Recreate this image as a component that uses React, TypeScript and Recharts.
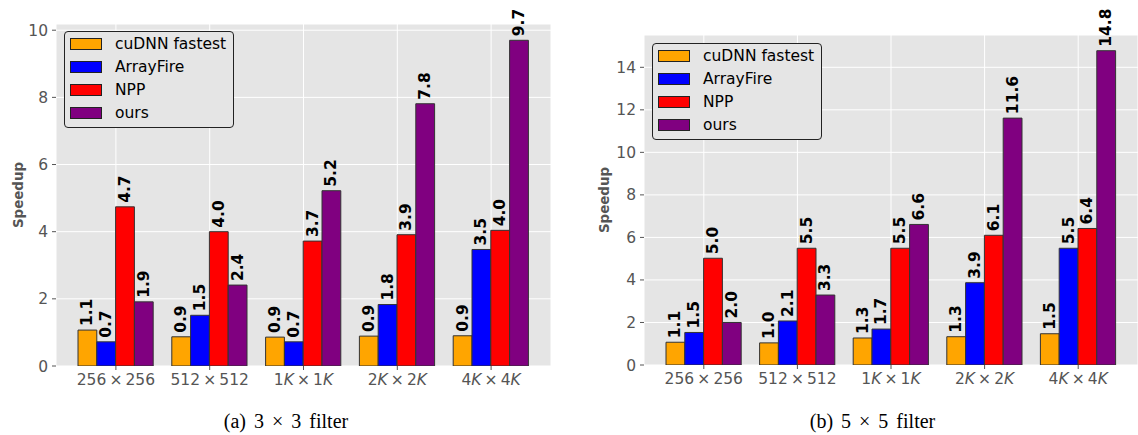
import React from 'react';
import { BarChart, Bar, XAxis, YAxis, CartesianGrid, Legend, LabelList } from 'recharts';

const categories = ['256×256', '512×512', '1K×1K', '2K×2K', '4K×4K'];
const seriesNames = ['cuDNN fastest', 'ArrayFire', 'NPP', 'ours'];
const seriesColors = ['#FFA500', '#0000FF', '#FF0000', '#800080'];

// (a) 3x3 filter
const cudnn3 = [1.07, 0.87, 0.86, 0.89, 0.9];
const arrayfire3 = [0.72, 1.51, 0.72, 1.83, 3.47];
const npp3 = [4.74, 4.0, 3.72, 3.91, 4.04];
const ours3 = [1.91, 2.41, 5.22, 7.81, 9.7];

// (b) 5x5 filter
const cudnn5 = [1.07, 1.04, 1.27, 1.33, 1.47];
const arrayfire5 = [1.53, 2.07, 1.69, 3.87, 5.49];
const npp5 = [5.02, 5.49, 5.49, 6.1, 6.42];
const ours5 = [2.0, 3.29, 6.61, 11.61, 14.78];

const ticks3 = [0, 2, 4, 6, 8, 10];
const ticks5 = [0, 2, 4, 6, 8, 10, 12, 14];

const captionA = '(a) 3 × 3 filter';
const captionB = '(b) 5 × 5 filter';
const yLabel = 'Speedup';

const makeRows = (a: number[], b: number[], c: number[], d: number[]) =>
  categories.map((cat, i) => ({ cat, s0: a[i], s1: b[i], s2: c[i], s3: d[i] }));

const rows3 = makeRows(cudnn3, arrayfire3, npp3, ours3);
const rows5 = makeRows(cudnn5, arrayfire5, npp5, ours5);

const FONT = 'DejaVu Sans';

const renderSide = (s: string, key: string) => {
  if (s.endsWith('K')) {
    return [
      <tspan key={key + 'd'}>{s.slice(0, -1)}</tspan>,
      <tspan key={key + 'k'} fontStyle="italic">K</tspan>,
    ];
  }
  return [<tspan key={key + 'd'}>{s}</tspan>];
};

const XTick = (props: any) => {
  const { x, y, payload } = props;
  const [a, b] = String(payload.value).split('×');
  return (
    <text x={x} y={y} dy="0.71em" textAnchor="middle" fill="#555" fontFamily={FONT} fontSize={15.5}>
      {renderSide(a, 'a')}
      <tspan>{'\u2009×\u2009'}</tspan>
      {renderSide(b, 'b')}
    </text>
  );
};

const BarLabel = (props: any) => {
  const { x, y, width, value } = props;
  const cx = Number(x) + Number(width) / 2;
  const cy = Number(y) - 4;
  return (
    <text
      x={cx}
      y={cy}
      transform={`rotate(-90 ${cx} ${cy})`}
      textAnchor="start"
      dominantBaseline="central"
      fontFamily={FONT}
      fontWeight="bold"
      fontSize={15.5}
      fill="#000"
    >
      {Number(value).toFixed(1)}
    </text>
  );
};

const LegendBox = () => (
  <div
    style={{
      position: 'relative',
      width: 170,
      height: 97,
      boxSizing: 'border-box',
      border: '1px solid #222',
      borderRadius: 4,
      background: '#E5E5E5',
      fontFamily: FONT,
      fontSize: 15.5,
      color: '#000',
    }}
  >
    {seriesNames.map((n, i) => (
      <div key={n}>
        <div
          style={{
            position: 'absolute',
            left: 5,
            top: 6 + i * 23,
            width: 32,
            height: 12,
            boxSizing: 'border-box',
            background: seriesColors[i],
            border: '1px solid #222',
          }}
        />
        <div
          style={{
            position: 'absolute',
            left: 50,
            top: 12 + i * 23 - 9,
            lineHeight: '18px',
            whiteSpace: 'nowrap',
          }}
        >
          {n}
        </div>
      </div>
    ))}
  </div>
);

const makeYLabel = (cx: number) => (p: any) => {
  const vb = p && p.viewBox ? p.viewBox : { x: 0, y: 0, width: 0, height: 0 };
  const cy = vb.y + vb.height / 2;
  return (
    <text
      x={cx}
      y={cy}
      transform={`rotate(-90 ${cx} ${cy})`}
      textAnchor="middle"
      dominantBaseline="central"
      fontFamily={FONT}
      fontWeight="bold"
      fontSize={13.4}
      fill="#555"
    >
      {yLabel}
    </text>
  );
};

type PanelProps = {
  rows: any[];
  ticks: number[];
  ymax: number;
  width: number;
  top: number;
  right: number;
  yAxisWidth: number;
  xAxisHeight: number;
  yLabelX: number;
  legendLeft: number;
  legendTop: number;
};

const Panel = (p: PanelProps) => (
  <BarChart
    width={p.width}
    height={435}
    data={p.rows}
    margin={{ top: p.top, right: p.right, left: 0, bottom: 0 }}
    barGap={0}
  >
    <CartesianGrid stroke="#FFFFFF" strokeWidth={1} fill="#E5E5E5" fillOpacity={1} />
    <XAxis
      dataKey="cat"
      tick={<XTick />}
      tickSize={4}
      tickMargin={4}
      axisLine={false}
      tickLine={{ stroke: '#555' }}
      height={p.xAxisHeight}
      padding={{ left: 13, right: 13 }}
      interval={0}
    />
    <YAxis
      type="number"
      domain={[0, p.ymax]}
      ticks={p.ticks}
      allowDataOverflow
      tickSize={4}
      tickMargin={4}
      axisLine={false}
      tickLine={{ stroke: '#555' }}
      tick={{ fill: '#555', fontSize: 15.5, fontFamily: FONT }}
      width={p.yAxisWidth}
      label={{ value: yLabel, content: makeYLabel(p.yLabelX) }}
    />
    <Legend
      layout="vertical"
      align="center"
      verticalAlign="middle"
      content={<LegendBox />}
      wrapperStyle={{ left: p.legendLeft, top: p.legendTop, width: 170, height: 97, bottom: 'auto', right: 'auto' }}
    />
    {seriesNames.map((n, i) => (
      <Bar
        key={n}
        dataKey={'s' + i}
        name={n}
        fill={seriesColors[i]}
        stroke="#333"
        strokeWidth={1}
        barSize={18.8}
        isAnimationActive={false}
      >
        <LabelList dataKey={'s' + i} content={<BarLabel />} />
      </Bar>
    ))}
  </BarChart>
);

export default function App() {
  const ymax3 = Math.max(...ours3) * 1.05;
  const ymax5 = Math.max(...ours5) * 1.05;
  return (
    <div style={{ position: 'absolute', left: 0, top: 0, width: 1138, height: 435, background: '#fff', overflow: 'hidden' }}>
      <div style={{ position: 'absolute', left: 0, top: 0 }}>
        <Panel
          rows={rows3}
          ticks={ticks3}
          ymax={ymax3}
          width={569}
          top={24}
          right={18}
          yAxisWidth={56}
          xAxisHeight={69}
          yLabelX={18}
          legendLeft={64}
          legendTop={31}
        />
      </div>
      <div style={{ position: 'absolute', left: 569, top: 0 }}>
        <Panel
          rows={rows5}
          ticks={ticks5}
          ymax={ymax5}
          width={569}
          top={35}
          right={0}
          yAxisWidth={75}
          xAxisHeight={70}
          yLabelX={35}
          legendLeft={83}
          legendTop={43}
        />
      </div>
      <svg width={1138} height={435} style={{ position: 'absolute', left: 0, top: 0, pointerEvents: 'none' }}>
        <text x={286} y={428} textAnchor="middle" fontFamily="Liberation Serif" fontSize={20} wordSpacing={3} fill="#000">
          {captionA}
        </text>
        <text x={872.5} y={428} textAnchor="middle" fontFamily="Liberation Serif" fontSize={20} wordSpacing={3} fill="#000">
          {captionB}
        </text>
      </svg>
    </div>
  );
}
